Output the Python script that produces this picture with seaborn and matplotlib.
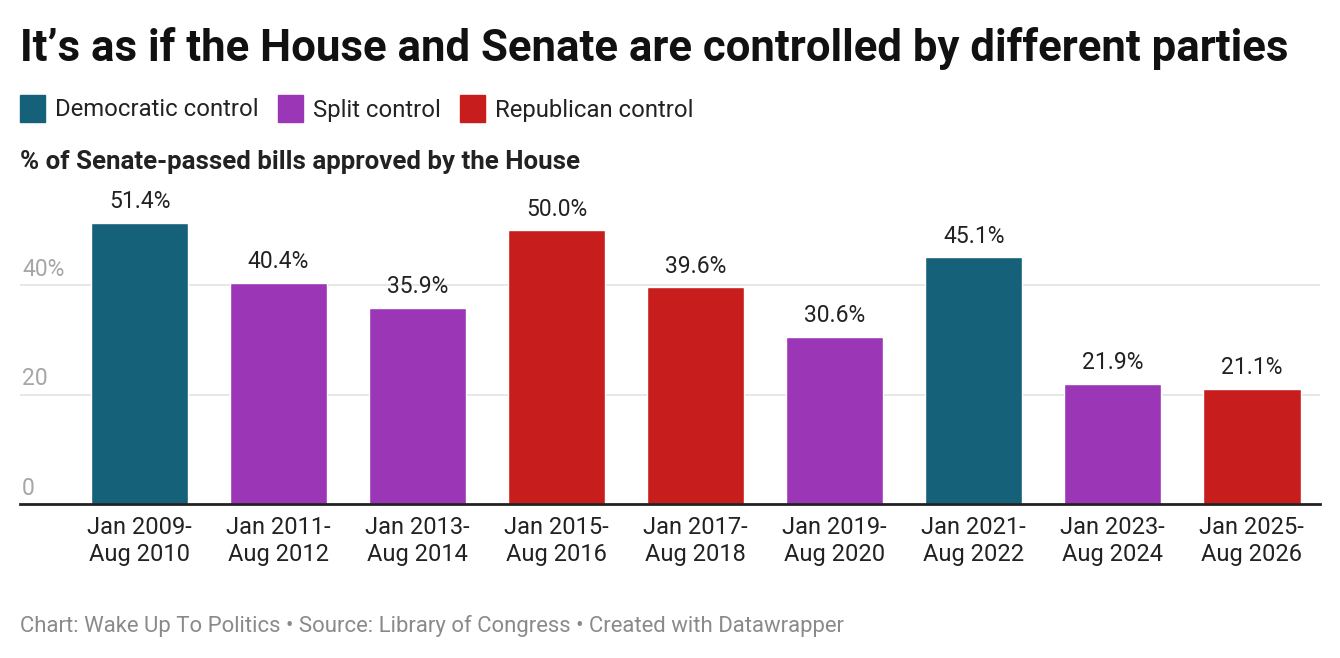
import pandas as pd
import matplotlib.pyplot as plt
import matplotlib.transforms as mtransforms
from matplotlib.patches import Rectangle
import seaborn as sns

# ------------------------------------------------------------
# Dados
# ------------------------------------------------------------
periodos = ["Jan 2009-\nAug 2010", "Jan 2011-\nAug 2012", "Jan 2013-\nAug 2014",
            "Jan 2015-\nAug 2016", "Jan 2017-\nAug 2018", "Jan 2019-\nAug 2020",
            "Jan 2021-\nAug 2022", "Jan 2023-\nAug 2024", "Jan 2025-\nAug 2026"]
valores = [51.4, 40.4, 35.9, 50.0, 39.6, 30.6, 45.1, 21.9, 21.1]
controle = ["Democratic control", "Split control", "Split control",
            "Republican control", "Republican control", "Split control",
            "Democratic control", "Split control", "Republican control"]
rotulos_legenda = ["Democratic control", "Split control", "Republican control"]
cores = {"Democratic control": "#15617a",
         "Split control": "#9b36b7",
         "Republican control": "#c71e1d"}
ticks_y = [0, 20, 40]
ticks_y_texto = ["0", "20", "40%"]

df = pd.DataFrame({"periodo": periodos, "valor": valores, "controle": controle})

# ------------------------------------------------------------
# Figura
# ------------------------------------------------------------
sns.set_theme(style="white")
plt.rcParams["font.family"] = ["Roboto", "DejaVu Sans"]

W, H = 1340, 658
fig = plt.figure(figsize=(W / 100, H / 100), dpi=100)


def fx(px):
    return px / W


def fy(py):
    return 1 - py / H


ax = fig.add_axes([fx(20), fy(504), fx(1300), (504 - 190) / H])

sns.barplot(data=df, x="periodo", y="valor", hue="controle", palette=cores,
            dodge=False, width=0.7, saturation=1, legend=False, ax=ax)

for cont in ax.containers:
    ax.bar_label(cont, labels=[f"{v:.1f}%" for v in cont.datavalues],
                 padding=7, fontsize=16.5, color="#222222")

ax.set_xlim(-0.86, 8.49)
ax.set_ylim(0, 57.4)
ax.set_xlabel("")
ax.set_ylabel("")
ax.set_yticks(ticks_y)
ax.set_yticklabels([])
ax.tick_params(axis="y", length=0)
ax.tick_params(axis="x", length=0, pad=9, labelsize=17, labelcolor="#222222")
for lab in ax.get_xticklabels():
    lab.set_linespacing(1.22)

for s in ["top", "right", "left"]:
    ax.spines[s].set_visible(False)
ax.spines["bottom"].set_color("#222222")
ax.spines["bottom"].set_linewidth(2)

for t in ticks_y[1:]:
    ax.axhline(t, color="#e3e3e3", linewidth=1.2, zorder=0)

trans = mtransforms.blended_transform_factory(fig.transFigure, ax.transData)
for t, txt in zip(ticks_y, ticks_y_texto):
    ax.text(fx(22), t + 0.8, txt, transform=trans, fontsize=16.5,
            color="#a6a6a6", ha="left", va="bottom")

# ------------------------------------------------------------
# Textos e legenda
# ------------------------------------------------------------
fig.text(fx(20), fy(48), "It\u2019s as if the House and Senate are controlled by different parties",
         fontsize=31.5, fontweight="bold", color="#111111", ha="left", va="center")

x_leg = [20, 278, 460]
for x0, rot in zip(x_leg, rotulos_legenda):
    fig.add_artist(Rectangle((fx(x0), fy(122)), fx(25), 27 / H,
                             transform=fig.transFigure, color=cores[rot]))
    fig.text(fx(x0 + 35), fy(110), rot, fontsize=17.2, color="#222222",
             ha="left", va="center")

fig.text(fx(20), fy(162), "% of Senate-passed bills approved by the House",
         fontsize=18.6, fontweight="bold", color="#222222", ha="left", va="center")

fig.text(fx(20), fy(626),
         "Chart: Wake Up To Politics \u2022 Source: Library of Congress \u2022 Created with Datawrapper",
         fontsize=15.9, color="#8a8a8a", ha="left", va="center")

fig.savefig("out.png", dpi=100)
